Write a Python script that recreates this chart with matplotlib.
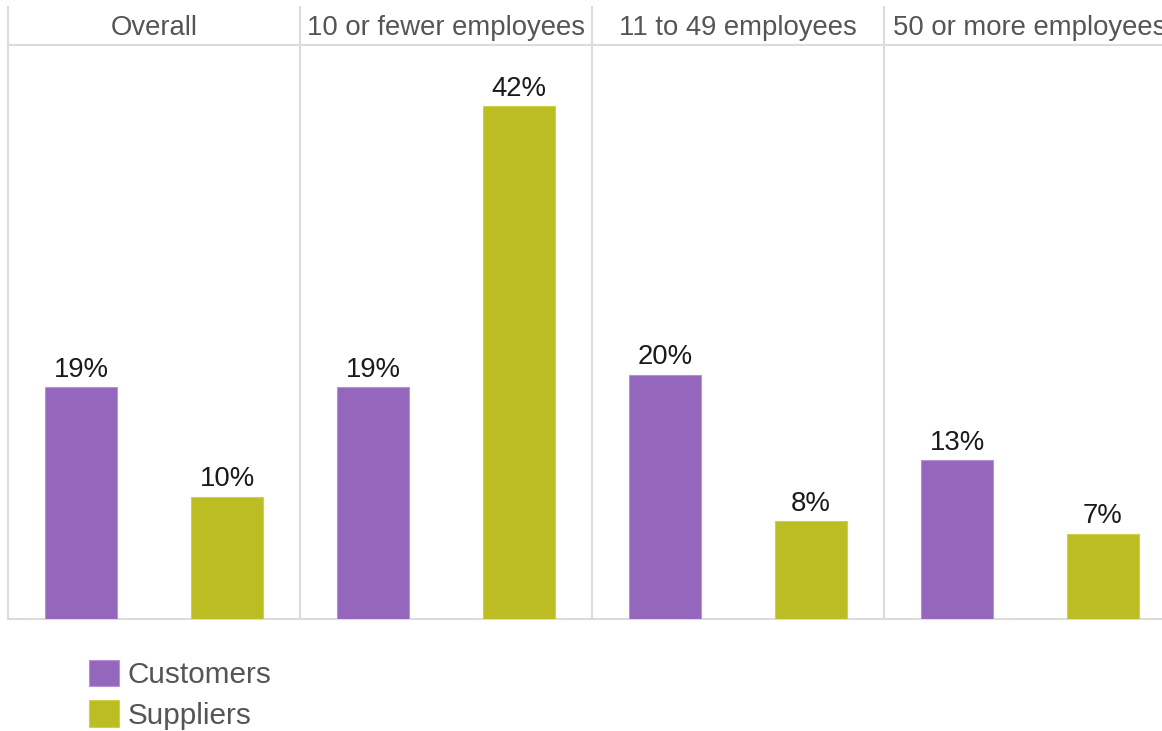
import matplotlib
matplotlib.use("Agg")
import matplotlib.pyplot as plt
from matplotlib.patches import Patch
import matplotlib.transforms as mtransforms

plt.rcParams["font.family"] = ["Liberation Sans", "DejaVu Sans"]

# Data
groups = ["Overall", "10 or fewer employees", "11 to 49 employees", "50 or more employees"]
series = ["Customers", "Suppliers"]
customers = [19, 19, 20, 13]
suppliers = [10, 42, 8, 7]
colors = {"Customers": "#9467bd", "Suppliers": "#bcbd22"}
edges = {"Customers": "#b393d6", "Suppliers": "#cfd04a"}

W, H, DPI = 1162, 731, 100
fig = plt.figure(figsize=(W / DPI, H / DPI), dpi=DPI)

# Plot area in pixel units (the last facet runs past the right edge)
left_px, right_px = 8, 1176
base_px, top_px = 619, 45
ax = fig.add_axes([left_px / W, (H - base_px) / H,
                   (right_px - left_px) / W, (base_px - top_px) / H])
ax.set_xlim(0, len(groups))
ax.set_ylim(0, 47.0)
ax.axis("off")

grid_c = "#dcdcdc"
bar_w = 0.247
values = {"Customers": customers, "Suppliers": suppliers}
offsets = {"Customers": 0.25, "Suppliers": 0.75}

for s in series:
    xs = [i + offsets[s] for i in range(len(groups))]
    bars = ax.bar(xs, values[s], width=bar_w, color=colors[s],
                  edgecolor=edges[s], linewidth=0.8, zorder=3)
    for b, v in zip(bars, values[s]):
        ax.annotate(f"{v}%", (b.get_x() + b.get_width() / 2, v),
                    xytext=(0, 7.5), textcoords="offset points",
                    ha="center", va="baseline", fontsize=19.8,
                    color="#1a1a1a")

# Facet frame: baseline, header underline, separators
trans = mtransforms.blended_transform_factory(ax.transData, ax.transAxes)
head_top = (base_px - 7) / (base_px - top_px)
ax.plot([0, len(groups)], [0, 0], color=grid_c, lw=1.5, clip_on=False,
        transform=trans, zorder=2)
ax.plot([0, len(groups)], [1, 1], color=grid_c, lw=1.5, clip_on=False,
        transform=trans, zorder=2)
for i in range(len(groups)):
    ax.plot([i, i], [0, head_top], color=grid_c, lw=1.5, clip_on=False,
            transform=trans, zorder=2)

# Facet titles
title_y = (base_px - 35) / (base_px - top_px)
for i, g in enumerate(groups):
    ax.text(i + 0.5, title_y, g, transform=trans, ha="center", va="baseline",
            fontsize=19.8, color="#555555", clip_on=False)

# Legend
handles = [Patch(facecolor=colors[s], edgecolor=edges[s], linewidth=0.8, label=s)
           for s in series]
fig.legend(handles=handles, loc="upper left",
           bbox_to_anchor=(77 / W, 1 - 648 / H), frameon=False,
           fontsize=21.4, handlelength=1.0, handleheight=1.0,
           handletextpad=0.3, labelspacing=0.36, borderaxespad=0,
           labelcolor="#555555")

fig.savefig("out.png", dpi=DPI)
